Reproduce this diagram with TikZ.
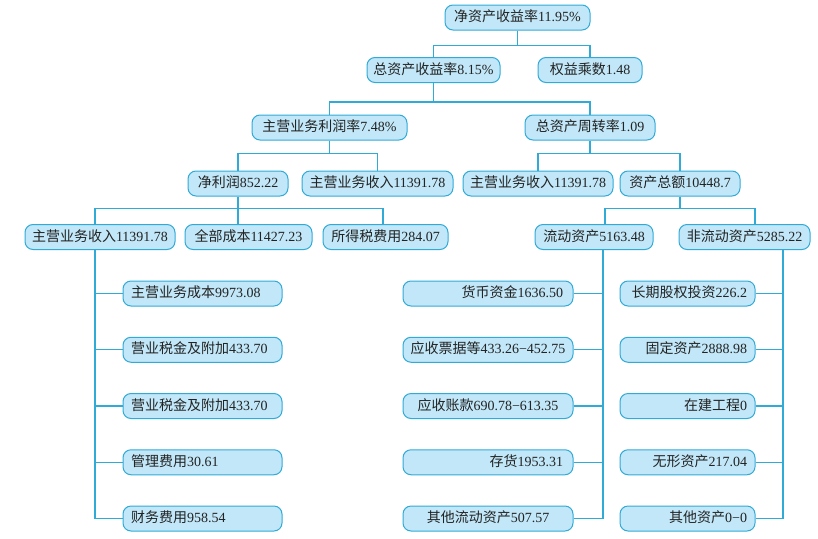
\documentclass[tikz,border=0pt]{standalone}
\usepackage{fontspec}
\setmainfont{Liberation Serif}
\newfontfamily\cjk{Noto Sans CJK SC}
\newcommand{\zh}[1]{{\cjk #1}}
\usepackage{xcolor}
\usepackage{tikz}
\usetikzlibrary{positioning}
\definecolor{boxfill}{RGB}{193,231,248}
\definecolor{boxline}{RGB}{48,170,215}
\definecolor{boxtext}{RGB}{35,35,35}

\begin{document}
\begin{tikzpicture}[x=1pt, y=1pt,
      box/.style={rectangle, rounded corners=8pt, draw=boxline, line width=1pt,
                  fill=boxfill, text=boxtext, minimum height=25pt,
                  inner xsep=2pt, inner ysep=2pt, text height=11pt, text depth=3pt,
                  font=\fontsize{14}{16}\selectfont, align=center},
      lleaf/.style={box, inner xsep=8pt, text width=143pt, align=left},
      mleaf/.style={box, inner xsep=10pt, text width=150pt, align=right},
      mleafc/.style={mleaf, inner xsep=6pt, text width=158pt, align=center},
      rleaf/.style={box, inner xsep=8pt, text width=119pt, align=right},
      link/.style={draw=boxline, line width=1.1pt},
      node distance=30.25pt
    ]
    \useasboundingbox (0,0) rectangle (818,-538);

    % upper tree
    \node[box, minimum width=145pt] (roe) at (517.5,-17.5) {\zh{净资产收益率}11.95\%};
    \node[box, minimum width=133pt] (roa) at (433.5,-70) {\zh{总资产收益率}8.15\%};
    \node[box, minimum width=104pt] (em)  at (590,-70) {\zh{权益乘数}1.48};
    \node[box, minimum width=155pt] (ppm) at (329.5,-127.5) {\zh{主营业务利润率}7.48\%};
    \node[box, minimum width=130pt] (tat) at (590,-127.5) {\zh{总资产周转率}1.09};
    \node[box, minimum width=100pt] (np)   at (238,-183.5) {\zh{净利润}852.22};
    \node[box, minimum width=151pt] (inc1) at (377.5,-183.5) {\zh{主营业务收入}11391.78};
    \node[box, minimum width=150pt] (inc3) at (538,-183.5) {\zh{主营业务收入}11391.78};
    \node[box, minimum width=120pt] (ta)   at (680,-183.5) {\zh{资产总额}10448.7};
    \node[box, minimum width=150pt] (inc2) at (100,-237) {\zh{主营业务收入}11391.78};
    \node[box, minimum width=127pt] (tc)   at (248.5,-237) {\zh{全部成本}11427.23};
    \node[box, minimum width=125pt] (tax)  at (385.5,-237) {\zh{所得税费用}284.07};
    \node[box, minimum width=118pt] (ca)   at (594,-237) {\zh{流动资产}5163.48};
    \node[box, minimum width=131pt] (nca)  at (744.5,-237) {\zh{非流动资产}5285.22};

    % cost items
    \node[lleaf] (c1) at (202.5,-293.5) {\zh{主营业务成本}9973.08};
    \node[lleaf, below=of c1] (c2) {\zh{营业税金及附加}433.70};
    \node[lleaf, below=of c2] (c3) {\zh{营业税金及附加}433.70};
    \node[lleaf, below=of c3] (c4) {\zh{管理费用}30.61};
    \node[lleaf, below=of c4] (c5) {\zh{财务费用}958.54};

    % current assets
    \node[mleaf] (a1) at (488,-293.5) {\zh{货币资金}1636.50};
    \node[mleafc, below=of a1] (a2) {\zh{应收票据等}433.26−452.75};
    \node[mleafc, below=of a2] (a3) {\zh{应收账款}690.78−613.35};
    \node[mleaf, below=of a3] (a4) {\zh{存货}1953.31};
    \node[mleafc, below=of a4] (a5) {\zh{其他流动资产}507.57};

    % non-current assets
    \node[rleaf] (n1) at (687.5,-293.5) {\zh{长期股权投资}226.2};
    \node[rleaf, below=of n1] (n2) {\zh{固定资产}2888.98};
    \node[rleaf, below=of n2] (n3) {\zh{在建工程}0};
    \node[rleaf, below=of n3] (n4) {\zh{无形资产}217.04};
    \node[rleaf, below=of n4] (n5) {\zh{其他资产}0−0};

    % links
    \draw[link] (roe) -- ([yshift=-15pt]roe.south);
    \draw[link] (roa.north) |- ([yshift=-15pt]roe.south) -| (em.north);
    \draw[link] (roa) -- ([yshift=-19pt]roa.south);
    \draw[link] (ppm.north) |- ([yshift=-19pt]roa.south) -| (tat.north);
    \draw[link] (ppm) -- ([yshift=-13pt]ppm.south);
    \draw[link] (np.north) |- ([yshift=-13pt]ppm.south) -| (inc1.north);
    \draw[link] (tat) -- ([yshift=-13pt]tat.south);
    \draw[link] (inc3.north) |- ([yshift=-13pt]tat.south) -| (ta.north);
    \draw[link] (np) -- (np |- tc.north);
    \draw[link] ([xshift=-5pt]inc2.north) |- ([yshift=-12pt]np.south) -| ([xshift=-2.5pt]tax.north);
    \draw[link] (ta) -- ([yshift=-12pt]ta.south);
    \draw[link] ([xshift=11pt]ca.north) |- ([yshift=-12pt]ta.south) -| ([xshift=10.5pt]nca.north);

    \coordinate (lt) at ([xshift=-5pt]inc2.south);
    \coordinate (mt) at ([xshift=9pt]ca.south);
    \coordinate (rt) at ([xshift=38.5pt]nca.south);
    \draw[link] (lt) |- (c5.west);
    \draw[link] (mt) |- (a5.east);
    \draw[link] (rt) |- (n5.east);
    \foreach \i in {1,2,3,4} {
      \draw[link] (c\i.west) -- (c\i.west -| lt);
      \draw[link] (a\i.east) -- (a\i.east -| mt);
      \draw[link] (n\i.east) -- (n\i.east -| rt);
    }
  \end{tikzpicture}
\end{document}
